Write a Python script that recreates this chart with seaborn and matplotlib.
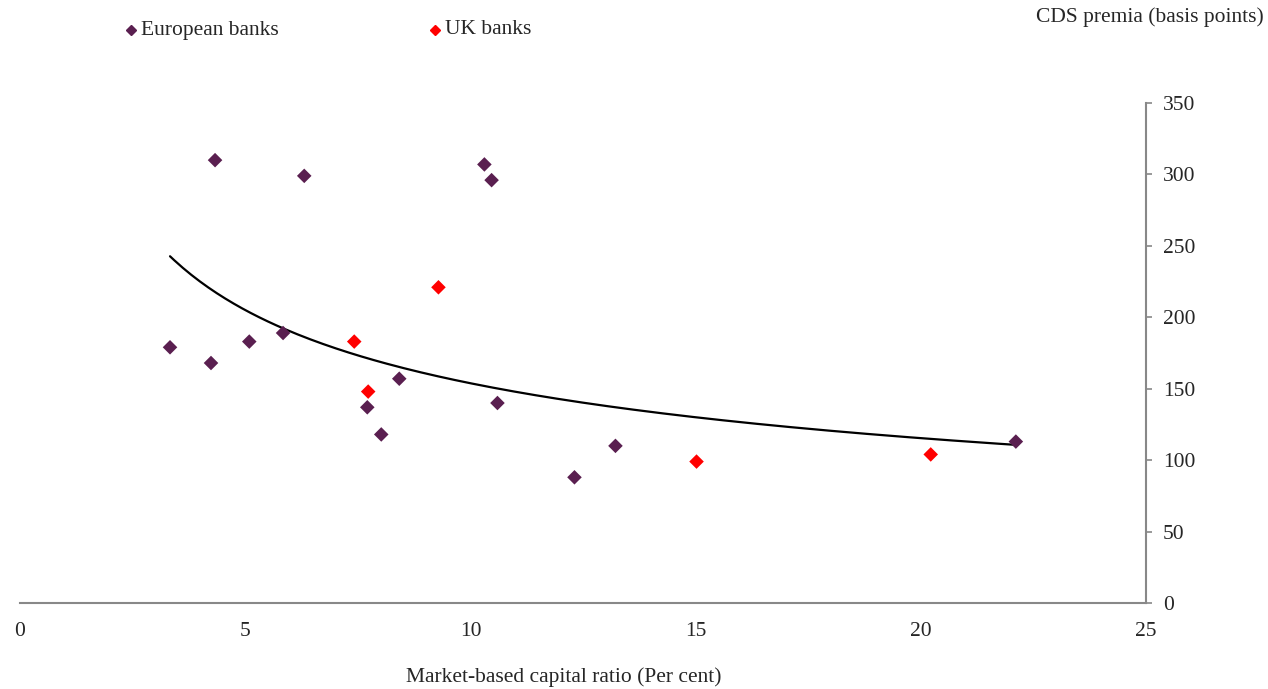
import numpy as np
import pandas as pd
import matplotlib
matplotlib.use("Agg")
import matplotlib.pyplot as plt
import seaborn as sns

# European banks: market-based capital ratio (%) vs CDS premia (bp)
eu_capital = [3.33, 4.33, 4.24, 5.09, 5.84, 6.31, 7.71, 8.02, 8.42, 10.31, 10.47, 10.60, 12.31, 13.22, 22.11]
eu_cds = [179, 310, 168, 183, 189, 299, 137, 118, 157, 307, 296, 140, 88, 110, 113]

# UK banks
uk_capital = [7.42, 9.29, 7.73, 15.02, 20.22]
uk_cds = [183, 221, 148, 99, 104]

eu_color = "#5a1f50"
uk_color = "#ff0000"
axis_grey = "#888888"
fs = 15.5

df = pd.DataFrame({
    "capital": eu_capital + uk_capital,
    "cds": eu_cds + uk_cds,
    "group": ["European banks"] * len(eu_capital) + ["UK banks"] * len(uk_capital),
})

# power trend line fitted across all banks
b, log_a = np.polyfit(np.log(df["capital"]), np.log(df["cds"]), 1)
fit_x = np.linspace(df["capital"].min(), df["capital"].max(), 200)
fit = pd.DataFrame({"capital": fit_x, "cds": np.exp(log_a) * fit_x ** b})

sns.set_style("white")
plt.rcParams["font.family"] = ["Liberation Serif", "DejaVu Serif"]
plt.rcParams["font.size"] = fs

fig = plt.figure(figsize=(12.68, 6.89), dpi=100)
ax = fig.add_axes([0.0158, 0.1248, 0.8880, 0.7257])

sns.lineplot(data=fit, x="capital", y="cds", color="black", linewidth=1.6, ax=ax)
sns.scatterplot(data=df, x="capital", y="cds", hue="group", marker="D", s=55,
                palette={"European banks": eu_color, "UK banks": uk_color},
                edgecolor="none", legend=False, ax=ax, zorder=3)

ax.set_xlim(0, 25)
ax.set_ylim(0, 350)
ax.set_xticks(range(0, 26, 5))
ax.set_yticks(range(0, 351, 50))
ax.set_xlabel("")
ax.set_ylabel("")

for side in ["top", "left"]:
    ax.spines[side].set_visible(False)
for side in ["bottom", "right"]:
    ax.spines[side].set_color(axis_grey)
    ax.spines[side].set_linewidth(1.5)

ax.yaxis.tick_right()
ax.tick_params(axis="y", direction="out", length=4, width=1.2, color=axis_grey,
               labelsize=fs, pad=8)
ax.tick_params(axis="x", direction="in", length=5, width=1.2, color=axis_grey,
               labelsize=fs, pad=14)

# legend along the top
fig.lines.append(plt.Line2D([131 / 1268], [1 - 30 / 689], marker="D", markersize=5,
                            color=eu_color, linestyle="none", transform=fig.transFigure))
fig.text(141 / 1268, 1 - 30 / 689, "European banks", ha="left", va="center", fontsize=fs)
fig.lines.append(plt.Line2D([435 / 1268], [1 - 30 / 689], marker="D", markersize=5,
                            color=uk_color, linestyle="none", transform=fig.transFigure))
fig.text(445 / 1268, 1 - 30 / 689, "UK banks", ha="left", va="center", fontsize=fs)

fig.text(1264 / 1268, 1 - 17 / 689, "CDS premia (basis points)", ha="right", va="center",
         fontsize=fs)
fig.text(564 / 1268, 1 - 677 / 689, "Market-based capital ratio (Per cent)", ha="center",
         va="center", fontsize=fs)

fig.savefig("out.png", dpi=100, facecolor="white")
